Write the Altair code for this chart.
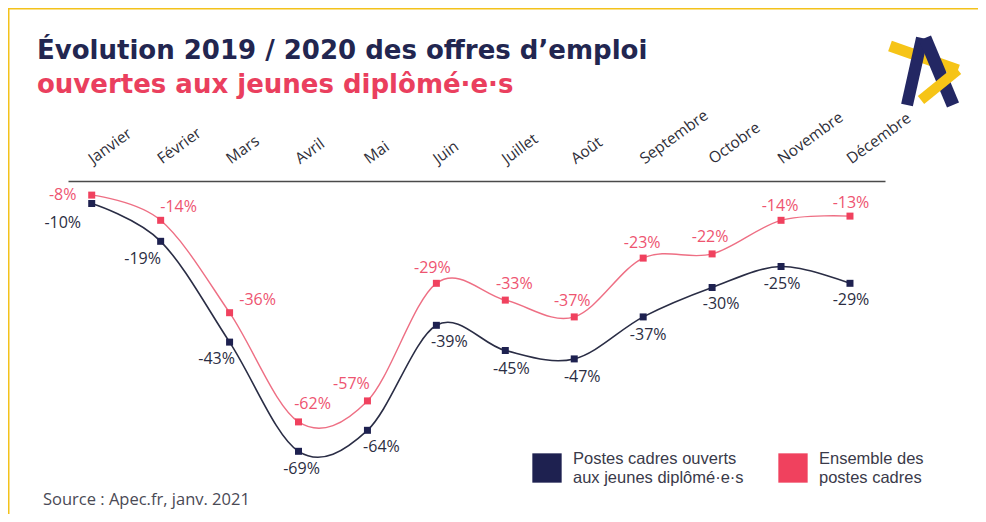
import json
import altair as alt
import pandas as pd

# ---------------- data ----------------
MONTHS = ["Janvier", "Février", "Mars", "Avril", "Mai", "Juin", "Juillet",
          "Août", "Septembre", "Octobre", "Novembre", "Décembre"]
JEUNES = [-10, -19, -43, -69, -64, -39, -45, -47, -37, -30, -25, -29]
ENSEMBLE = [-8, -14, -36, -62, -57, -29, -33, -37, -23, -22, -14, -13]
SERIES = ["Postes cadres ouverts|aux jeunes diplômé·e·s", "Ensemble des|postes cadres"]
TITLE_1 = "Évolution 2019 / 2020 des offres d’emploi"
TITLE_2 = "ouvertes aux jeunes diplômé·e·s"
SOURCE = "Source : Apec.fr, janv. 2021"

# ---------------- styles / layout ----------------
NAVY = "#1E2150"
NAVY_LINE = "#2A2D45"
NAVY_TEXT = "#2B2D42"
PINK = "#F0415E"
PINK_LINE = "#EE6F84"
PINK_TEXT = "#EE5470"
YELLOW = "#F3C21B"
FONT = "Open Sans"

# label offsets (pixels) per point
DARK_DX = [-29, -18, -13, 3, 14, 13, 6, 8, 5, 9, 1, 1]
DARK_DY = [19, 18, 17, 18, 17, 17, 18, 18, 18, 16, 17, 17]
PINK_DX = [-29, 18, 28, 14, -16, -4, 9, -2, -1, -2, -1, 1]
PINK_DY = [0, -13, -13, -18, -17, -15, -16, -16, -15, -17, -14, -13]

W, H = 817, 300

rows = []
for i, m in enumerate(MONTHS):
    rows.append({"idx": i, "month": m, "series": SERIES[0], "value": JEUNES[i],
                 "label": f"{JEUNES[i]}%"})
    rows.append({"idx": i, "month": m, "series": SERIES[1], "value": ENSEMBLE[i],
                 "label": f"{ENSEMBLE[i]}%"})
df = pd.DataFrame(rows)

x_enc = alt.X("idx:Q",
              scale=alt.Scale(domain=[-0.344, 11.508], nice=False, zero=False),
              axis=alt.Axis(orient="top", values=list(range(12)),
                            labelExpr=json.dumps(MONTHS, ensure_ascii=False) + "[datum.value]",
                            title=None, grid=False, ticks=False, tickSize=0,
                            domain=True, domainColor="#4a4a4a", domainWidth=1.5,
                            labelAngle=324, labelAlign="left", labelBaseline="alphabetic",
                            labelPadding=17, labelOffset=1, labelFont=FONT, labelFontSize=15.5,
                            labelColor="#2e2e38", labelOverlap=False, labelFlush=False,
                            labelBound=False))
y_enc = alt.Y("value:Q", scale=alt.Scale(domain=[-76.07, -4.64], nice=False, zero=False),
              axis=None)

base = alt.Chart(df)

lines = []
for s, c, w in [(SERIES[0], NAVY_LINE, 1.6), (SERIES[1], PINK_LINE, 1.4)]:
    lines.append(base.transform_filter(alt.datum.series == s)
                 .mark_line(interpolate="cardinal", color=c, strokeWidth=w)
                 .encode(x=x_enc, y=y_enc))

points = base.mark_square(size=49, opacity=1).encode(
    x=x_enc, y=y_enc,
    color=alt.Color("series:N",
                    scale=alt.Scale(domain=SERIES, range=[NAVY, PINK]),
                    legend=alt.Legend(orient="none", legendX=464, legendY=272,
                                      direction="horizontal", title=None,
                                      symbolType="square", symbolSize=860,
                                      symbolStrokeWidth=0, symbolOpacity=1,
                                      labelExpr="split(datum.label, '|')",
                                      labelFont="Liberation Sans", labelFontSize=16.5,
                                      labelBaseline="line-bottom",
                                      labelColor="#3a3a4a",
                                      labelOffset=11, labelLimit=400,
                                      columnPadding=34, padding=0)),
)

labels = []
for si, (s, dxs, dys, col) in enumerate([(SERIES[0], DARK_DX, DARK_DY, NAVY_TEXT),
                                          (SERIES[1], PINK_DX, PINK_DY, PINK_TEXT)]):
    for i in range(len(MONTHS)):
        labels.append(base.transform_filter((alt.datum.series == s) & (alt.datum.idx == i))
                      .mark_text(dx=dxs[i], dy=dys[i], align="center", baseline="middle",
                                 font=FONT, fontSize=16, color=col)
                      .encode(x=x_enc, y=y_enc, text="label:N"))

deco_df = pd.DataFrame({"k": [0]})
deco = alt.Chart(deco_df)

title1 = deco.mark_text(text=TITLE_1, align="left", baseline="alphabetic",
                        font="DejaVu Sans", fontWeight="bold", fontSize=26,
                        color="#222650").encode(x=alt.value(-31), y=alt.value(-122))
title2 = deco.mark_text(text=TITLE_2, align="left", baseline="alphabetic",
                        font="DejaVu Sans", fontWeight="bold", fontSize=26,
                        color="#EA3F5E").encode(x=alt.value(-31), y=alt.value(-88))
source = deco.mark_text(text=SOURCE, align="left", baseline="middle",
                        font=FONT, fontSize=16.5, color="#4a4a55").encode(
    x=alt.value(-25), y=alt.value(319))

border_top = deco.mark_rule(color=YELLOW, strokeWidth=1.5).encode(
    x=alt.value(-60), x2=alt.value(910), y=alt.value(-172.25))
border_left = deco.mark_rule(color=YELLOW, strokeWidth=1.5).encode(
    x=alt.value(-59.25), y=alt.value(-173), y2=alt.value(333))

logo_y1 = deco.mark_rule(color="#F6C417", strokeWidth=11, strokeCap="butt").encode(
    x=alt.value(822), y=alt.value(-135), x2=alt.value(890), y2=alt.value(-111))
logo_l = deco.mark_rule(color="#232763", strokeWidth=12, strokeCap="butt").encode(
    x=alt.value(854), y=alt.value(-143), x2=alt.value(839), y2=alt.value(-76))
logo_r = deco.mark_rule(color="#232763", strokeWidth=13, strokeCap="butt").encode(
    x=alt.value(857), y=alt.value(-143), x2=alt.value(885), y2=alt.value(-76))
logo_y2 = deco.mark_rule(color="#F6C417", strokeWidth=10, strokeCap="butt").encode(
    x=alt.value(890), y=alt.value(-111), x2=alt.value(853), y2=alt.value(-81))

chart = alt.layer(
    border_top, border_left, title1, title2, source,
    logo_y1, logo_l, logo_r, logo_y2,
    *lines, points, *labels,
).properties(
    width=W, height=H,
    padding={"left": 60, "top": 173, "right": 93, "bottom": 33},
    autosize=alt.AutoSizeParams(type="none"),
    background="white",
).configure_view(stroke=None)

chart.save("out.html", embed_options={"renderer": "svg", "actions": False})
